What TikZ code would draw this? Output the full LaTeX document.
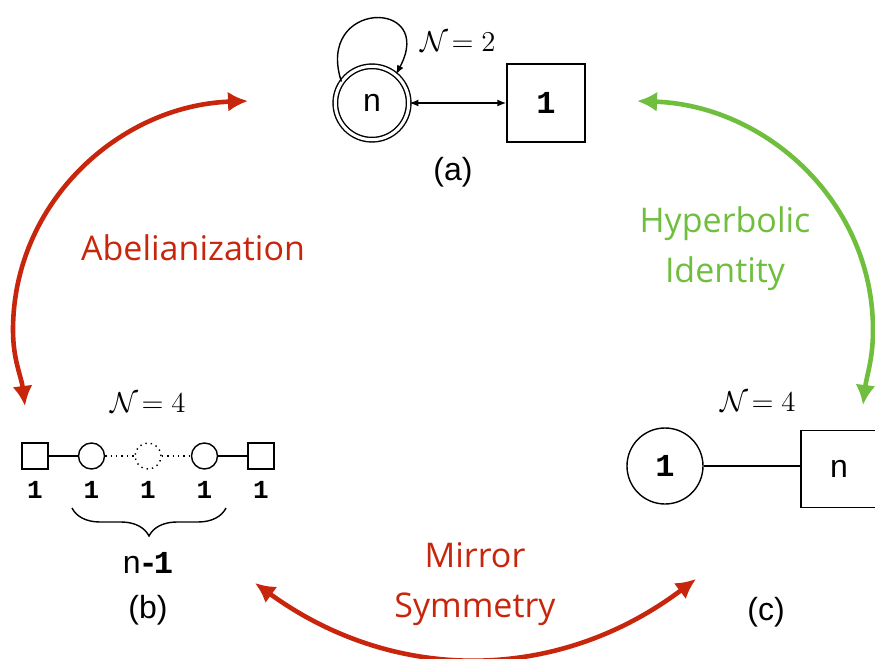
\documentclass[tikz,border=0pt]{standalone}
\usepackage{fontspec}
\setmainfont{Liberation Sans}
\newfontfamily\flowfont{Open Sans}
\newfontfamily\rankfont{Liberation Mono}
\usetikzlibrary{arrows.meta,decorations.pathreplacing}
\definecolor{flowred}{RGB}{200,38,12}
\definecolor{flowgreen}{RGB}{112,190,62}

\begin{document}
\begin{tikzpicture}[x=0.5pt,y=-0.5pt,line width=0.7pt,node distance=28.25pt,
	gauge node/.style={circle,draw,inner sep=0pt},
	flavor node/.style={rectangle,draw,inner sep=0pt},
	small node/.style={minimum size=13pt},
	tip/.style={-{Latex[length=4.5pt,width=3.5pt]}},
	flow/.style={line width=2.3pt,{Latex[length=10pt,width=10pt]}-{Latex[length=10pt,width=10pt]}},
	flow text/.style={font=\flowfont\fontsize{17}{25}\selectfont,align=center},
	caption/.style={font=\fontsize{16}{18}\selectfont},
	rank/.style={font=\rankfont\bfseries\fontsize{13}{13}\selectfont},
	big rank/.style={font=\rankfont\bfseries\fontsize{16}{16}\selectfont},
	letter/.style={font=\fontsize{16}{16}\selectfont}]

	\useasboundingbox (0,0) rectangle (875,659);

	% (a)
	\node[gauge node,double,double distance=1.55pt,minimum size=36.7pt,letter] (n) at (372,103) {n};
	\node[flavor node,minimum size=39pt,big rank] (f) at (546,103) {1};
	\node (susy a) at (458,42) {\fontsize{14}{14}\selectfont$\mathcal{N}\!=2$};
	\node[caption] (cap a) at (453,172) {(a)};

	\draw[{Latex[length=4.5pt,width=3.5pt]}-{Latex[length=4.5pt,width=3.5pt]}] (n) -- (f);
	\draw[tip] (n.145) to [out=108,in=62,looseness=4] (n.50);

	% (b)
	\node[flavor node,small node] (b1) at (35,456) {};
	\node[gauge node,small node] (b2) [right of = b1] {};
	\node[gauge node,small node,dotted] (b3) [right of = b2] {};
	\node[gauge node,small node] (b4) [right of = b3] {};
	\node[flavor node,small node] (b5) [right of = b4] {};

	\node[rank] (r1) [below of = b1, node distance=17pt] {1};
	\node[rank] (r2) [below of = b2, node distance=17pt] {1};
	\node[rank] (r3) [below of = b3, node distance=17pt] {1};
	\node[rank] (r4) [below of = b4, node distance=17pt] {1};
	\node[rank] (r5) [below of = b5, node distance=17pt] {1};

	\draw (b1) -- (b2);
	\draw[dotted] (b2) -- (b3);
	\draw[dotted] (b3) -- (b4);
	\draw (b4) -- (b5);

	\coordinate (brace l) at (72,508);
	\coordinate (brace r) at (226,508);
	\draw[decorate,decoration={brace,mirror,amplitude=14pt}] (brace l) -- (brace r);

	\node (susy b) at (148,403) {\fontsize{14}{14}\selectfont$\mathcal{N}\!=4$};
	\node[caption] (count) at (148,563) {n{\rankfont\bfseries\kern-1pt-\kern-2pt1}};
	\node[caption] (cap b) at (148,610) {(b)};

	% (c)
	\node[gauge node,minimum size=38pt,big rank] (c1) at (665,466) {1};
	\node[flavor node,minimum width=38pt,minimum height=38.5pt,letter] (cn) at (839,469) {n};
	\draw (c1) -- (c1 -| cn.west);
	\node (susy c) at (758,402) {\fontsize{14}{14}\selectfont$\mathcal{N}\!=4$};
	\node[caption] (cap c) at (766,612) {(c)};

	% dualities
	\coordinate (ab top) at (248,101);
	\coordinate (ab side) at (13,330);
	\coordinate (ab end) at (25,406);
	\draw[flow,flowred] (ab top) to [out=182,in=90] (ab side) to [out=-90,in=97] (ab end);

	\coordinate (hi top) at (637,101);
	\coordinate (hi side) at (873,330);
	\coordinate (hi end) at (863,405);
	\draw[flow,flowgreen] (hi top) to [out=-2,in=90] (hi side) to [out=-90,in=83] (hi end);

	\coordinate (ms left) at (255,583);
	\coordinate (ms right) at (696,579);
	\draw[flow,flowred] (ms left) to [out=-36,in=-143] (ms right);

	\node[flow text,flowred] (abel) at (193,248) {Abelianization};
	\node[flow text,flowgreen] (hyp) at (725,249) {Hyperbolic\\Identity};
	\node[flow text,flowred] (mir) at (475,584) {Mirror\\Symmetry};

\end{tikzpicture}
\end{document}
